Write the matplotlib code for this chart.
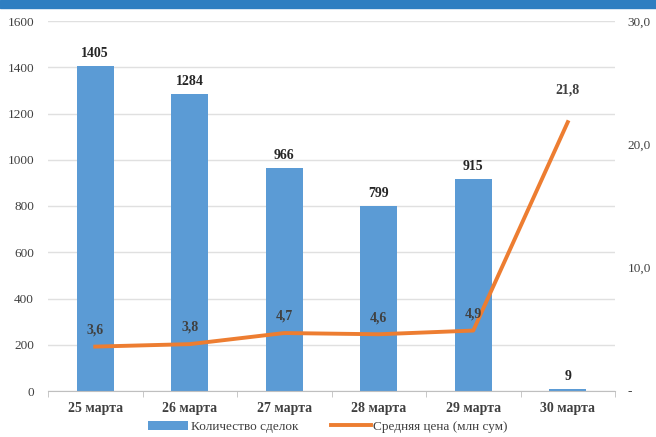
import matplotlib.pyplot as plt
import matplotlib.patches as mpatches
import numpy as np

days = ["25 марта", "26 марта", "27 марта", "28 марта", "29 марта", "30 марта"]
deals = [1405, 1284, 966, 799, 915, 9]
avg_price = [3.6, 3.8, 4.7, 4.6, 4.9, 21.8]

plt.rcParams['font.family'] = ['Liberation Serif', 'DejaVu Serif']

fig = plt.figure(figsize=(6.56, 4.37), dpi=100)
fig.patches.append(mpatches.Rectangle((0, 1 - 8 / 437), 1, 8 / 437, transform=fig.transFigure,
                                      color="#2E7EC1", zorder=0))
ax = fig.add_axes([48 / 656, 1 - 391 / 437, 567 / 656, 370 / 437])
ax2 = ax.twinx()

x = np.arange(len(days))
bars = ax.bar(x, deals, width=0.39, color="#5B9BD5", zorder=2, label="Количество сделок")
ax.set_xlim(-0.5, len(days) - 0.5)
ax.set_ylim(0, 1600)
ax.set_yticks(range(0, 1601, 200))
ax.grid(axis="y", color="#E0E0E0", linewidth=1, zorder=0)
ax.set_axisbelow(True)
for s in ["top", "left", "right"]:
    ax.spines[s].set_visible(False)
ax.spines["bottom"].set_color("#BFBFBF")
ax.set_xticks(x)
ax.set_xticklabels(days, fontsize=10, fontweight="bold", color="#404040")
ax.set_xticks(np.arange(-0.5, len(days)), minor=True)
ax.tick_params(axis="x", which="major", length=0, pad=8)
ax.tick_params(axis="x", which="minor", length=4, color="#BFBFBF")
ax.tick_params(axis="y", length=0, labelsize=9.5, labelcolor="#404040", pad=10)

for xi, v in zip(x, deals):
    ax.annotate(str(v), (xi, v), xytext=(0, 9), textcoords="offset points",
                ha="center", va="center", fontsize=10, fontweight="bold", color="#262626")

ln, = ax2.plot(x, avg_price, color="#ED7D31", linewidth=2.8, zorder=3, label="Средняя цена (млн сум)")
ax2.set_ylim(0, 30)
ax2.set_yticks([0, 10, 20, 30])
ax2.set_yticklabels(["-", "10,0", "20,0", "30,0"])
ax2.tick_params(axis="y", length=0, labelsize=9.5, labelcolor="#404040", pad=9)
for s in ["top", "left", "right", "bottom"]:
    ax2.spines[s].set_visible(False)

for i, (xi, v) in enumerate(zip(x, avg_price)):
    off = 23 if i == len(x) - 1 else 12
    ax2.annotate(f"{v:.1f}".replace(".", ","), (xi, v), xytext=(0, off), textcoords="offset points",
                 ha="center", va="center", fontsize=10, fontweight="bold", color="#404040")

fig.legend(handles=[bars, ln], loc="lower center", bbox_to_anchor=(0.5, -0.018), ncol=2,
           frameon=False, fontsize=9.5, handlelength=3, handletextpad=0.2, columnspacing=2.5,
           labelcolor="#404040")

plt.savefig("out.png", dpi=100)
plt.close()
